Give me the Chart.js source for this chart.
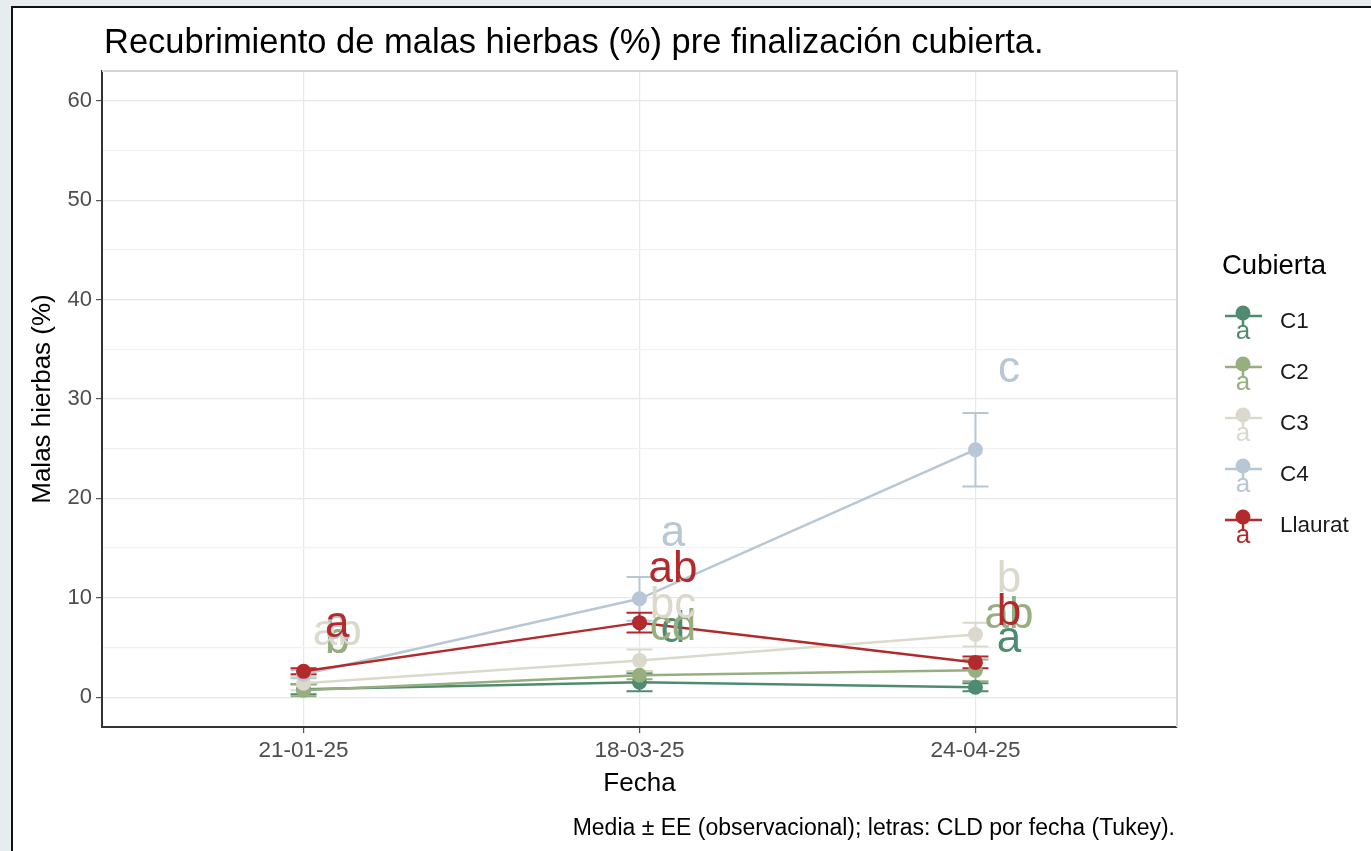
<!DOCTYPE html>
<html>
<head>
<meta charset="utf-8">
<title>Recubrimiento de malas hierbas</title>
<script src="https://cdn.jsdelivr.net/npm/chart.js@4.4.1/dist/chart.umd.min.js"></script>
<style>
    html, body { margin: 0; padding: 0; background: #e7ecef; overflow: hidden; }
    #card { position: absolute; left: 11px; top: 6px; width: 1420px; height: 900px; background: #fff;
            border-left: 2px solid #111; border-top: 2px solid #111; }
    #wrap { position: absolute; left: 0; top: 0; width: 1371px; height: 851px; }
</style>
</head>
<body>
<div id="card"></div>
<div id="wrap"><canvas id="chart-malas-hierbas"></canvas></div>
<script>
// Datos: media y error estándar por fecha
const fechas = ['21-01-25', '18-03-25', '24-04-25'];
const cubiertas = ['C1', 'C2', 'C3', 'C4', 'Llaurat'];
const yTicks = [0, 10, 20, 30, 40, 50, 60];

const mediaC1 = [0.8, 1.5, 1.0];
const mediaC2 = [0.7, 2.2, 2.7];
const mediaC3 = [1.4, 3.7, 6.3];
const mediaC4 = [2.3, 9.9, 24.9];
const mediaLlaurat = [2.6, 7.5, 3.5];

const eeC1 = [0.5, 0.9, 0.4];
const eeC2 = [0.6, 0.4, 1.1];
const eeC3 = [0.7, 1.1, 1.2];
const eeC4 = [0.4, 2.2, 3.7];
const eeLlaurat = [0.3, 1.0, 0.6];

// letras CLD (Tukey) por fecha
const letrasC1 = ['b', 'd', 'a'];
const letrasC2 = ['b', 'cd', 'ab'];
const letrasC3 = ['ab', 'bc', 'b'];
const letrasC4 = ['a', 'a', 'c'];
const letrasLlaurat = ['a', 'ab', 'b'];

const colores = ['#4f8b70', '#97ae80', '#dbd9cc', '#b8c7d5', '#b22a2b'];
const FONT = "'Liberation Sans', Arial, sans-serif";

const series = [
    { media: mediaC1, ee: eeC1, letras: letrasC1 },
    { media: mediaC2, ee: eeC2, letras: letrasC2 },
    { media: mediaC3, ee: eeC3, letras: letrasC3 },
    { media: mediaC4, ee: eeC4, letras: letrasC4 },
    { media: mediaLlaurat, ee: eeLlaurat, letras: letrasLlaurat }
].map((s, k) => ({ ...s, nombre: cubiertas[k], color: colores[k] }));

// marco claro superior/derecho del panel + barras de error
const panelYErrores = {
    id: 'panelYErrores',
    beforeDatasetsDraw(chart) {
        const { ctx, chartArea: a, scales: { x, y } } = chart;
        ctx.save();
        ctx.strokeStyle = '#d6d6d6';
        ctx.lineWidth = 2;
        ctx.beginPath();
        ctx.moveTo(a.left, a.top);
        ctx.lineTo(a.right, a.top);
        ctx.lineTo(a.right, a.bottom);
        ctx.stroke();

        ctx.lineWidth = 2;
        series.forEach(s => {
            ctx.strokeStyle = s.color;
            s.media.forEach((m, i) => {
                const px = x.getPixelForValue(i);
                const top = y.getPixelForValue(m + s.ee[i]);
                const bot = y.getPixelForValue(m - s.ee[i]);
                ctx.beginPath();
                ctx.moveTo(px - 13, top); ctx.lineTo(px + 13, top);
                ctx.moveTo(px, top); ctx.lineTo(px, bot);
                ctx.moveTo(px - 13, bot); ctx.lineTo(px + 13, bot);
                ctx.stroke();
            });
        });
        ctx.restore();
    }
};

// letras, título, leyenda y nota
const textos = {
    id: 'textos',
    afterDraw(chart) {
        const { ctx, scales: { x, y } } = chart;
        ctx.save();

        ctx.font = `44px ${FONT}`;
        ctx.textAlign = 'center';
        ctx.textBaseline = 'alphabetic';
        series.forEach(s => {
            ctx.fillStyle = s.color;
            s.letras.forEach((l, i) => {
                ctx.fillText(l, x.getPixelForValue(i + 0.1), y.getPixelForValue(s.media[i] + s.ee[i]) - 31);
            });
        });

        // título
        ctx.fillStyle = '#000';
        ctx.textAlign = 'left';
        ctx.textBaseline = 'middle';
        ctx.font = `34.5px ${FONT}`;
        ctx.fillText('Recubrimiento de malas hierbas (%) pre finalización cubierta.', 104, 43);

        // nota al pie
        ctx.font = `23px ${FONT}`;
        ctx.textAlign = 'right';
        ctx.fillText('Media ± EE (observacional); letras: CLD por fecha (Tukey).', 1175, 829);

        // leyenda
        ctx.textAlign = 'left';
        ctx.font = `27.5px ${FONT}`;
        ctx.fillText('Cubierta', 1222, 266);
        series.forEach((s, k) => {
            const cy = 322 + k * 51;
            const kx = 1243;
            ctx.strokeStyle = s.color;
            ctx.fillStyle = s.color;
            ctx.lineWidth = 2.5;
            ctx.beginPath();
            ctx.moveTo(1225, cy - 6); ctx.lineTo(1262, cy - 6);
            ctx.moveTo(kx, cy - 9); ctx.lineTo(kx, cy + 5);
            ctx.stroke();
            ctx.beginPath();
            ctx.arc(kx, cy - 9, 7.5, 0, Math.PI * 2);
            ctx.fill();
            ctx.font = `26px ${FONT}`;
            ctx.textAlign = 'center';
            ctx.textBaseline = 'alphabetic';
            ctx.fillText('a', kx, cy + 17);
            ctx.fillStyle = '#1a1a1a';
            ctx.font = `22.5px ${FONT}`;
            ctx.textAlign = 'left';
            ctx.textBaseline = 'middle';
            ctx.fillText(s.nombre, 1280, cy);
        });
        ctx.restore();
    }
};

const datasets = series.map((s, k) => ({
    label: s.nombre,
    data: s.media.map((m, i) => ({ x: i, y: m })),
    borderColor: s.color,
    backgroundColor: s.color,
    pointBackgroundColor: s.color,
    pointBorderColor: s.color,
    pointBorderWidth: 0,
    pointRadius: 7.5,
    borderWidth: 2.5,
    tension: 0,
    order: series.length - k
}));

const ctx = document.getElementById('chart-malas-hierbas');
new Chart(ctx, {
    type: 'line',
    data: { datasets },
    options: {
        responsive: true,
        maintainAspectRatio: false,
        animation: false,
        layout: { padding: { left: 0, top: 71, right: 194, bottom: 52 } },
        plugins: { legend: { display: false }, tooltip: { enabled: false } },
        scales: {
            x: {
                type: 'linear',
                min: -0.6,
                max: 2.6,
                afterBuildTicks: scale => { scale.ticks = fechas.map((f, i) => ({ value: i })); },
                afterFit: scale => { scale.height = 72; },
                ticks: {
                    callback: v => fechas[v],
                    color: '#4d4d4d',
                    font: { family: FONT, size: 22.5 },
                    padding: 4,
                    maxRotation: 0
                },
                grid: { color: '#e8e8e8', lineWidth: 1.2, tickColor: '#555', tickLength: 6 },
                border: { display: true, color: '#333', width: 2 },
                title: { display: true, text: 'Fecha', color: '#000', font: { family: FONT, size: 26 }, padding: 0 }
            },
            y: {
                min: -3,
                max: 63,
                afterBuildTicks: scale => {
                    const t = [];
                    yTicks.forEach((v, i) => {
                        t.push({ value: v });
                        if (i < yTicks.length - 1) t.push({ value: (v + yTicks[i + 1]) / 2 });
                    });
                    scale.ticks = t;
                },
                afterFit: scale => { scale.width = 102; },
                ticks: {
                    callback: v => (yTicks.includes(v) ? String(v) : ''),
                    color: '#4d4d4d',
                    font: { family: FONT, size: 22 },
                    padding: 4
                },
                grid: {
                    color: c => (yTicks.includes(c.tick.value) ? '#e8e8e8' : '#f1f1f1'),
                    lineWidth: 1.2,
                    tickColor: c => (yTicks.includes(c.tick.value) ? '#555' : 'rgba(0,0,0,0)'),
                    tickLength: 6
                },
                border: { display: true, color: '#333', width: 2 },
                title: { display: true, text: 'Malas hierbas (%)', color: '#000', font: { family: FONT, size: 26 }, padding: { top: 27, bottom: 0 } }
            }
        }
    },
    plugins: [panelYErrores, textos]
});
</script>
</body>
</html>
